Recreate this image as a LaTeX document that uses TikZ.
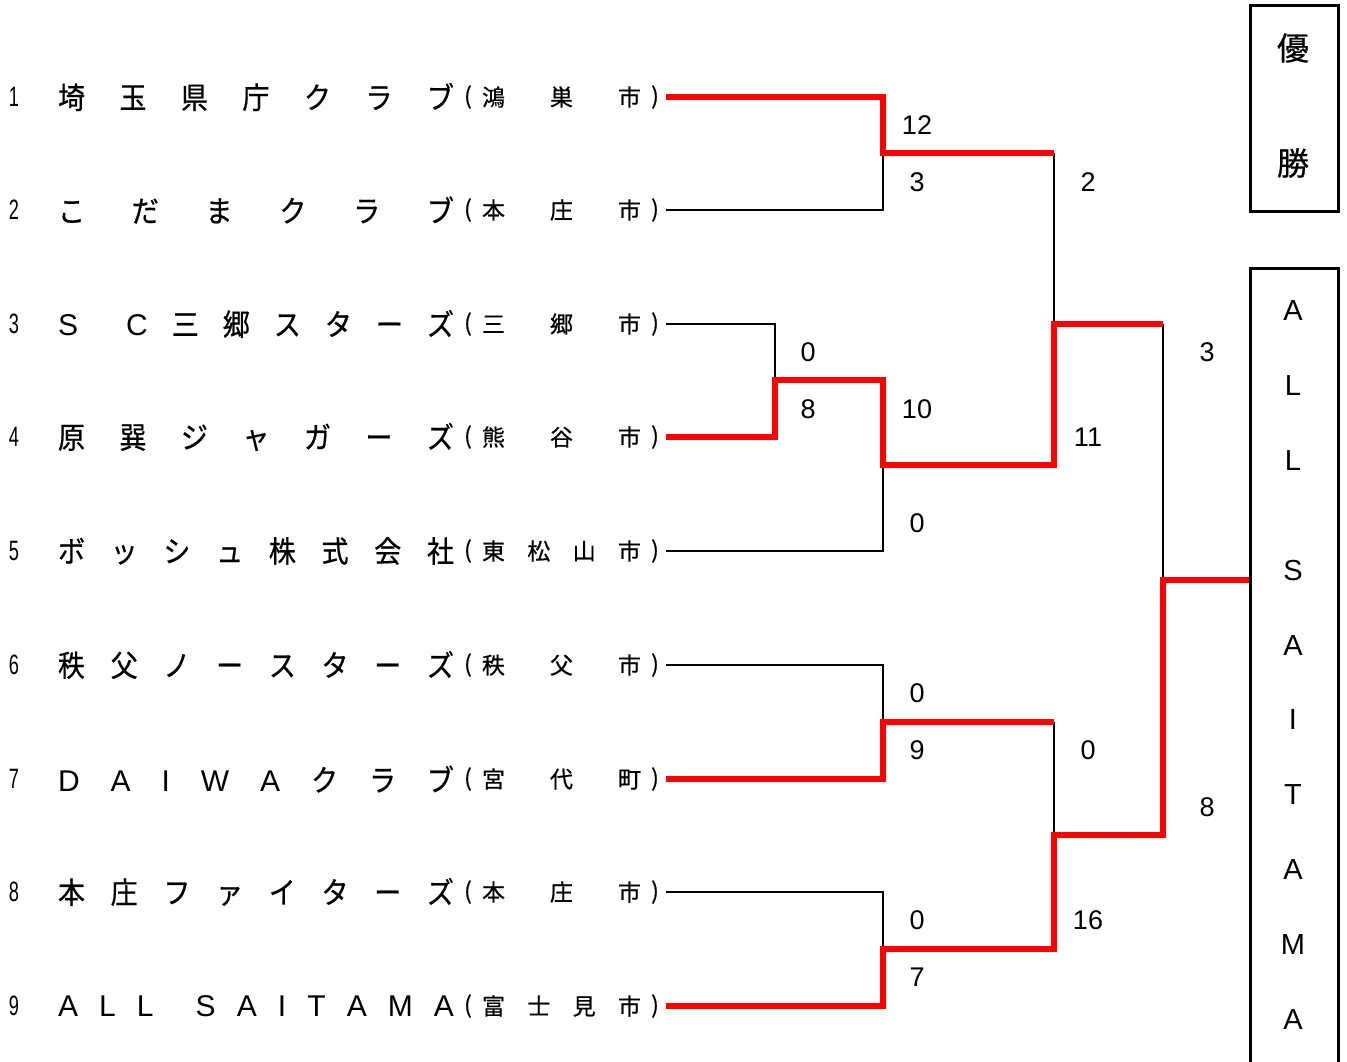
\documentclass[tikz,border=0pt]{standalone}
\usepackage{fontspec}
\setmainfont{Liberation Sans}
\newfontfamily\jpn[FakeStretch=0.9,FakeBold=0.6]{Noto Sans CJK JP}
\newfontfamily\jpc[FakeBold=0.6]{Noto Sans CJK JP}
\newfontfamily\lat{Liberation Sans}
\newcommand\nmbox[1]{\makebox[396pt]{#1}}
\newcommand\ctbox[1]{\makebox[159pt]{#1}}
\newcommand\hf{\hfill}
\newcommand\narrowdig[1]{\scalebox{0.65}[1]{#1}}
\tikzset{
  blkline/.style={line width=2.5pt, black},
  redline/.style={line width=5.5pt, red},
  rownum/.style={inner sep=0pt, font=\lat\fontsize{28}{28}\selectfont},
  teamname/.style={inner sep=0pt, font=\jpn\fontsize{30}{30}\selectfont},
  cityname/.style={inner sep=0pt, font=\jpc\fontsize{23}{23}\selectfont},
  score/.style={inner sep=0pt, font=\lat\fontsize{27}{27}\selectfont},
  boxletter/.style={inner sep=0pt, font=\lat\fontsize{29}{29}\selectfont},
  titlechar/.style={inner sep=0pt, font=\jpc\fontsize{32}{32}\selectfont},
  framebox/.style={draw, line width=3pt, inner sep=0pt, anchor=north west, minimum width=88pt},
}
\newcommand\teamrow[4]{%
  \node[rownum] (n#1) at (14,#2) {\narrowdig{#1}};
  \node[teamname] (t#1) at (256,#2) {\nmbox{#3}};
  \node[cityname] (lp#1) at (468,#2) {(};
  \node[cityname] (c#1) at (561.5,#2) {\ctbox{#4}};
  \node[cityname] (rp#1) at (655,#2) {)};
  \coordinate (s#1) at (666,#2);
}
\begin{document}
\begin{tikzpicture}[x=1pt,y=-1pt]
\useasboundingbox (0,0) rectangle (1347,1061);
\fill[white] (0,0) rectangle (1347,1061);

\teamrow{1}{97}{埼\hf 玉\hf 県\hf 庁\hf ク\hf ラ\hf ブ}{鴻\hf 巣\hf 市}
\teamrow{2}{210}{こ\hf だ\hf ま\hf ク\hf ラ\hf ブ}{本\hf 庄\hf 市}
\teamrow{3}{324}{{\lat S}\hf\hf{\lat C}\hf 三\hf 郷\hf ス\hf タ\hf ー\hf ズ}{三\hf 郷\hf 市}
\teamrow{4}{437}{原\hf 巽\hf ジ\hf ャ\hf ガ\hf ー\hf ズ}{熊\hf 谷\hf 市}
\teamrow{5}{551}{ボ\hf ッ\hf シ\hf ュ\hf 株\hf 式\hf 会\hf 社}{東\hf 松\hf 山\hf 市}
\teamrow{6}{665}{秩\hf 父\hf ノ\hf ー\hf ス\hf タ\hf ー\hf ズ}{秩\hf 父\hf 市}
\teamrow{7}{779}{{\lat D}\hf{\lat A}\hf{\lat I}\hf{\lat W}\hf{\lat A}\hf ク\hf ラ\hf ブ}{宮\hf 代\hf 町}
\teamrow{8}{892}{本\hf 庄\hf フ\hf ァ\hf イ\hf タ\hf ー\hf ズ}{本\hf 庄\hf 市}
\teamrow{9}{1006}{{\lat A}\hf{\lat L}\hf{\lat L}\hf\hf{\lat S}\hf{\lat A}\hf{\lat I}\hf{\lat T}\hf{\lat A}\hf{\lat M}\hf{\lat A}}{富\hf 士\hf 見\hf 市}

% junctions
\coordinate (m12) at (883,153);
\coordinate (m34) at (775,380);
\coordinate (m345) at (883,465);
\coordinate (m67) at (883,722);
\coordinate (m89) at (883,949);
\coordinate (mtop) at (1054,324);
\coordinate (mbot) at (1054,835);
\coordinate (mfin) at (1163,580);

% boxes
\node[framebox, minimum height=206pt] (title) at (1249,4) {};
\node[framebox, minimum height=820pt] (champ) at (1249,267) {};
\node[titlechar] (tc1) at (1293,48) {優};
\node[titlechar] (tc2) at (1293,163) {勝};
\foreach \ch/\yy [count=\i] in {A/311,L/386,L/461,S/571,A/646,I/720,T/795,A/870,M/945,A/1020}
  \node[boxletter] (bl\i) at (1293,\yy) {\ch};

% black (losing) lines
\draw[blkline] (s2) -| (m12);
\draw[blkline] (s3) -| (m34);
\draw[blkline] (s5) -| (m345);
\draw[blkline] (s6) -| (m67);
\draw[blkline] (s8) -| (m89);
\draw[blkline] (m12 -| mtop) -- (mtop);
\draw[blkline] (m67 -| mbot) -- (mbot);
\draw[blkline] (mtop -| mfin) -- (mfin);

% red (winning) lines
\draw[redline] (s1) -| (m12) -- (m12 -| mtop);
\draw[redline] (s4) -| (m34) -- (m34 -| m345) -- (m345) -- (m345 -| mtop) -- (mtop) -- (mtop -| mfin);
\draw[redline] (s7) -| (m67) -- (m67 -| mbot);
\draw[redline] (s9) -| (m89) -- (m89 -| mbot) -- (mbot) -- (mbot -| mfin) -- (mfin) -- (mfin -| champ.west);

% scores
\node[score] (sc1) at (917,125) {12};
\node[score] (sc2) at (917,182) {3};
\node[score] (sc3) at (1088,182) {2};
\node[score] (sc4) at (808,352) {0};
\node[score] (sc5) at (808,409) {8};
\node[score] (sc6) at (917,409) {10};
\node[score] (sc7) at (1088,437) {11};
\node[score] (sc8) at (917,523) {0};
\node[score] (sc9) at (1207,352) {3};
\node[score] (sc10) at (917,693) {0};
\node[score] (sc11) at (917,750) {9};
\node[score] (sc12) at (1088,750) {0};
\node[score] (sc13) at (1207,807) {8};
\node[score] (sc14) at (917,920) {0};
\node[score] (sc15) at (917,977) {7};
\node[score] (sc16) at (1088,920) {16};
\end{tikzpicture}
\end{document}
